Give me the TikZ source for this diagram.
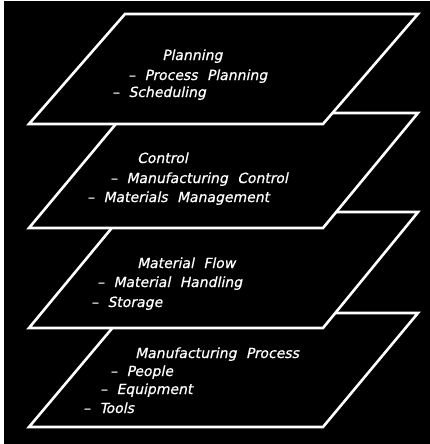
\documentclass[tikz,border=0pt]{standalone}
\usepackage{fontspec}
\newfontfamily\lettering{DejaVu Sans}[WordSpace=2.1,FakeBold=0.7,FakeSlant=0.21]
\usepackage{xcolor}
\usepackage{tikz}
\definecolor{inkx}{HTML}{FFFFFF}
\definecolor{boardx}{HTML}{000000}
\tikzset{
  lyr/.style={draw=inkx,line width=2.6pt,line join=miter,fill=boardx},
  txt/.style={text=inkx,anchor=base west,inner sep=0pt,font=\fontsize{14}{16}\lettering}
}
\begin{document}
\begin{tikzpicture}[x=1pt,y=-1pt]
\useasboundingbox (0,0) rectangle (430,444);
\fill[white] (0,0) rectangle (430,444);
\fill[boardx] (4,1) rectangle (430,444);
% layers, lowest first
\foreach \t/\b in {313/427,212/328,113/228,14/124}
  \draw[lyr] (125,\t)--(418,\t)--(323,\b)--(29,\b)--cycle;
\node[txt] (plan) at (162,60) {Planning};
\node[txt] (plan1) at (128,80) {– Process Planning};
\node[txt] (plan2) at (112,97) {– Scheduling};
\node[txt] (ctrl) at (137,163) {Control};
\node[txt] (ctrl1) at (110,183) {– Manufacturing Control};
\node[txt] (ctrl2) at (87,202) {– Materials Management};
\node[txt] (flow) at (137,268) {Material Flow};
\node[txt] (flow1) at (97,287) {– Material Handling};
\node[txt] (flow2) at (91,307) {– Storage};
\node[txt] (proc) at (135,358) {Manufacturing Process};
\node[txt] (proc1) at (110,376) {– People};
\node[txt] (proc2) at (100,394) {– Equipment};
\node[txt] (proc3) at (83,413) {– Tools};
\end{tikzpicture}
\end{document}
